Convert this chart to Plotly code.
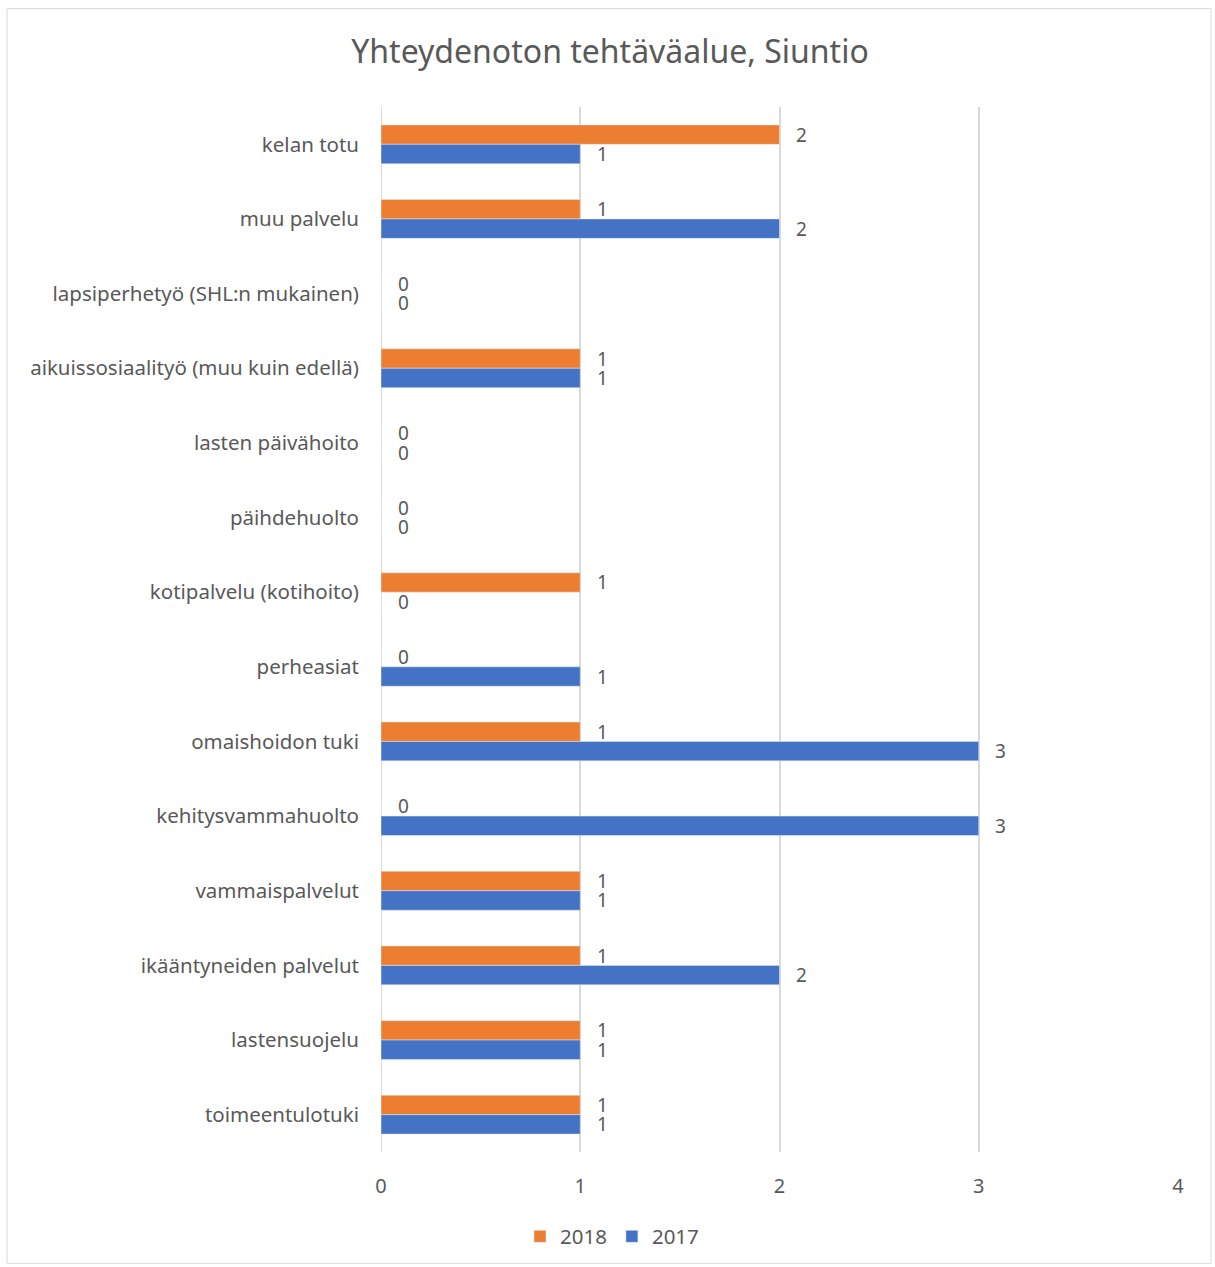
import plotly.graph_objects as go

categories = ["kelan totu", "muu palvelu", "lapsiperhetyö (SHL:n mukainen)",
              "aikuissosiaalityö (muu kuin edellä)", "lasten päivähoito", "päihdehuolto",
              "kotipalvelu (kotihoito)", "perheasiat", "omaishoidon tuki",
              "kehitysvammahuolto", "vammaispalvelut", "ikääntyneiden palvelut",
              "lastensuojelu", "toimeentulotuki"]
values_2018 = [2, 1, 0, 1, 0, 0, 1, 0, 1, 0, 1, 1, 1, 1]
values_2017 = [1, 2, 0, 1, 0, 0, 0, 1, 3, 3, 1, 2, 1, 1]
x_ticks = [0, 1, 2, 3, 4]

ORANGE = "#ED7D31"
BLUE = "#4472C4"
TXT = "#595959"
FONT = "Noto Sans"

fig = go.Figure()
fig.add_trace(go.Bar(y=categories, x=values_2018, orientation="h", name="2018",
                     marker_color=ORANGE, hoverinfo="skip"))
fig.add_trace(go.Bar(y=categories, x=values_2017, orientation="h", name="2017",
                     marker_color=BLUE, hoverinfo="skip"))

bargap = 0.48
half = (1 - bargap) / 4
annotations = []
for i, (a, b) in enumerate(zip(values_2018, values_2017)):
    for val, off in ((a, -half), (b, half)):
        annotations.append(dict(x=val, y=i + off, xref="x", yref="y", text=str(val),
                                showarrow=False, xanchor="center", yanchor="middle",
                                xshift=22, borderpad=0,
                                font=dict(family=FONT, size=19, color=TXT)))

pl, pr, pt, pb = 381, 1178, 106.6, 1153.4
W, H = pr - pl, pb - pt

def px_x(p):
    return (p - pl) / W

def px_y(p):
    return (pb - p) / H

shapes = [dict(type="rect", xref="paper", yref="paper",
               x0=px_x(7), x1=px_x(1211), y0=px_y(1265), y1=px_y(8),
               line=dict(color="#d9d9d9", width=1), fillcolor="rgba(0,0,0,0)", layer="below")]

fig.update_layout(
    width=1215, height=1267,
    margin=dict(l=pl, r=1215 - pr, t=pt, b=1267 - pb),
    paper_bgcolor="white", plot_bgcolor="white",
    barmode="group", bargap=bargap, bargroupgap=0,
    title=dict(text="Yhteydenoton tehtäväalue, Siuntio", x=610 / 1215, y=1 - 52 / 1267,
               xref="container", yref="container", xanchor="center", yanchor="middle",
               font=dict(family=FONT, size=32, color=TXT)),
    xaxis=dict(range=[0, 4], tickvals=x_ticks, showgrid=True, gridcolor="#d9d9d9", gridwidth=2,
               zeroline=False, showline=False, ticklabelstandoff=20,
               tickfont=dict(family=FONT, size=20, color=TXT)),
    yaxis=dict(autorange="reversed", showgrid=False, zeroline=False, showline=False,
               ticklabelstandoff=21, tickfont=dict(family=FONT, size=20.5, color=TXT)),
    legend=dict(orientation="h", x=px_x(612), y=px_y(1237), xanchor="center", yanchor="middle",
                font=dict(family=FONT, size=20.5, color=TXT), itemwidth=30),
    annotations=annotations,
    shapes=shapes,
    showlegend=True,
)
fig.add_vline(x=0, line_color="#d9d9d9", line_width=2, layer="below")

fig.write_html("out.html")
